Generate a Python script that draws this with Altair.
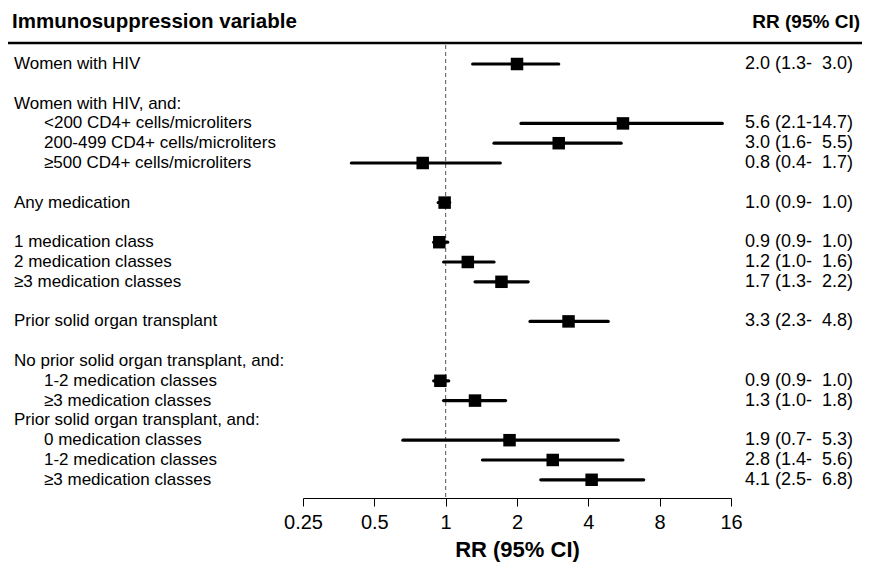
import altair as alt
import pandas as pd

# ---- data ----
FS = "\u2007"  # figure space (digit-wide padding, as in the reference)
row_pos = [0, 2, 3, 4, 5, 7, 9, 10, 11, 13, 15, 16, 17, 18, 19, 20, 21]
labels = [
    "Women with HIV",
    "Women with HIV, and:",
    "<200 CD4+ cells/microliters",
    "200-499 CD4+ cells/microliters",
    "\u2265500 CD4+ cells/microliters",
    "Any medication",
    "1 medication class",
    "2 medication classes",
    "\u22653 medication classes",
    "Prior solid organ transplant",
    "No prior solid organ transplant, and:",
    "1-2 medication classes",
    "\u22653 medication classes",
    "Prior solid organ transplant, and:",
    "0 medication classes",
    "1-2 medication classes",
    "\u22653 medication classes",
]
indent = [0, 0, 1, 1, 1, 0, 0, 0, 0, 0, 0, 1, 1, 0, 1, 1, 1]
est = [2.0, None, 5.6, 3.0, 0.8, 0.99, 0.94, 1.24, 1.72, 3.3, None, 0.95, 1.33, None, 1.86, 2.83, 4.13]
lower = [1.3, None, 2.08, 1.6, 0.4, 0.93, 0.89, 0.98, 1.33, 2.27, None, 0.89, 0.98, None, 0.66, 1.43, 2.52]
upper = [3.0, None, 14.7, 5.5, 1.7, 1.04, 1.02, 1.6, 2.23, 4.85, None, 1.03, 1.79, None, 5.35, 5.6, 6.85]
ci_text = [
    "2.0 (1.3-" + FS + "3.0)", "", "5.6 (2.1-14.7)", "3.0 (1.6-" + FS + "5.5)",
    "0.8 (0.4-" + FS + "1.7)", "1.0 (0.9-" + FS + "1.0)", "0.9 (0.9-" + FS + "1.0)",
    "1.2 (1.0-" + FS + "1.6)", "1.7 (1.3-" + FS + "2.2)", "3.3 (2.3-" + FS + "4.8)", "",
    "0.9 (0.9-" + FS + "1.0)", "1.3 (1.0-" + FS + "1.8)", "",
    "1.9 (0.7-" + FS + "5.3)", "2.8 (1.4-" + FS + "5.6)", "4.1 (2.5-" + FS + "6.8)",
]
tick_values = [0.25, 0.5, 1, 2, 4, 8, 16]
ref_value = [1]
header_left = ["Immunosuppression variable"]
header_right = ["RR (95% CI)"]
axis_title = "RR (95% CI)"

FONT = "Liberation Sans"

df = pd.DataFrame({
    "row": row_pos, "label": labels, "indent": indent,
    "est": est, "lower": lower, "upper": upper, "ci": ci_text,
})
pts = df.dropna(subset=["est"])

xscale = alt.Scale(type="log", base=2, domain=[0.25, 16], nice=False)
yscale = alt.Scale(domain=[-0.96, 21.92], reverse=True, nice=False, zero=False)

base = alt.Chart(df)

lab0 = base.transform_filter("datum.indent == 0").mark_text(
    align="left", baseline="middle", font=FONT, fontSize=17, color="black"
).encode(x=alt.value(-289), y=alt.Y("row:Q", scale=yscale, axis=None), text="label:N")

lab1 = base.transform_filter("datum.indent == 1").mark_text(
    align="left", baseline="middle", font=FONT, fontSize=17, color="black"
).encode(x=alt.value(-259), y=alt.Y("row:Q", scale=yscale, axis=None), text="label:N")

ci_col = base.mark_text(
    align="left", baseline="middle", font=FONT, fontSize=18, color="black"
).encode(x=alt.value(442), y=alt.Y("row:Q", scale=yscale, axis=None), text="ci:N")

ref = alt.Chart(pd.DataFrame({"v": ref_value})).mark_rule(
    color="#555555", strokeWidth=1, strokeDash=[4, 3]
).encode(x=alt.X("v:Q", scale=xscale))

ci_lines = alt.Chart(pts).mark_rule(color="black", strokeWidth=3.2, strokeCap="round").encode(
    x=alt.X("lower:Q", scale=xscale,
            axis=alt.Axis(values=tick_values, format="~g", title=axis_title, grid=False,
                          domainColor="black", tickColor="black", tickSize=8,
                          labelFontSize=20, labelFont=FONT, labelColor="black",
                          labelPadding=6, labelFlush=False, labelOverlap=False,
                          titleFont=FONT, titleFontSize=22, titleFontWeight="bold",
                          titleColor="black", titlePadding=7)),
    x2="upper:Q",
    y=alt.Y("row:Q", scale=yscale, axis=None),
)

squares = alt.Chart(pts).mark_square(color="black", size=156, opacity=1).encode(
    x=alt.X("est:Q", scale=xscale),
    y=alt.Y("row:Q", scale=yscale, axis=None),
)

hdr_l = alt.Chart(pd.DataFrame({"t": header_left})).mark_text(
    align="left", baseline="middle", font=FONT, fontSize=20.5, fontWeight="bold", color="black"
).encode(x=alt.value(-291), y=alt.value(-23), text="t:N")

hdr_r = alt.Chart(pd.DataFrame({"t": header_right})).mark_text(
    align="right", baseline="middle", font=FONT, fontSize=19, fontWeight="bold", color="black"
).encode(x=alt.value(557), y=alt.value(-23), text="t:N")

hdr_line = alt.Chart(pd.DataFrame({"t": header_left})).mark_rule(
    color="black", strokeWidth=2.5
).encode(x=alt.value(-295), x2=alt.value(559), y=alt.value(-2))

chart = alt.layer(
    ref, ci_lines, squares, lab0, lab1, ci_col, hdr_l, hdr_r, hdr_line
).properties(
    width=428, height=453,
    autosize=alt.AutoSizeParams(type="none"),
    padding={"left": 295, "top": 37, "right": 131, "bottom": 70},
).configure(font=FONT).configure_view(strokeWidth=0, strokeOpacity=0, stroke="transparent")

chart.save("out.html", embed_options={"renderer": "svg", "actions": False})
